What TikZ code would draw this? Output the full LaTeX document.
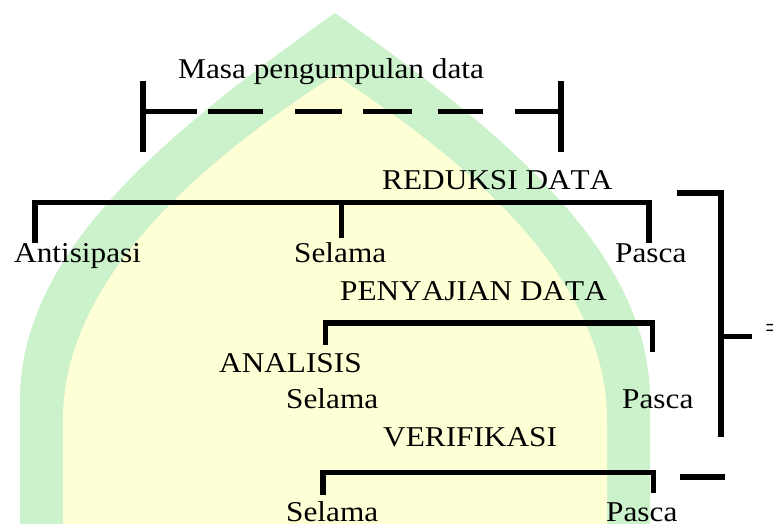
\documentclass[tikz,border=0pt]{standalone}
\usepackage{fontspec}
\setmainfont[Kerning=Off]{Liberation Serif}
\usepackage{graphicx}
\definecolor{archgreen}{RGB}{204,242,204}
\definecolor{archyellow}{RGB}{255,255,214}
\tikzset{
  lbl/.style={anchor=base west, inner sep=0pt, font=\fontsize{28.7}{34}\selectfont},
  bar/.style={line width=5.8pt, line join=miter, line cap=butt},
}
\newcommand{\wideword}[1]{\scalebox{1.09}[1]{#1}}
\begin{document}
\begin{tikzpicture}[x=1pt,y=-1pt]
\clip (0,0) rectangle (773,524);
\fill[white] (0,0) rectangle (773,524);
% pointed arch in the background
\fill[archgreen] (20,530) -- (20,400) .. controls (20,250) and (170,130) .. (335,13)
  .. controls (500,130) and (650,250) .. (650,400) -- (650,530) -- cycle;
\fill[archyellow] (63,530) -- (63,420) .. controls (63,290) and (180,175) .. (335,75)
  .. controls (490,175) and (607,290) .. (607,420) -- (607,530) -- cycle;

% labels
\node[lbl] (masa) at (178,79) {\wideword{Masa pengumpulan data}};
\node[lbl] (reduksi) at (382,189) {\wideword{REDUKSI DATA}};
\node[lbl] (antis) at (14,262) {\wideword{Antisipasi}};
\node[lbl] (selA) at (294,262) {\wideword{Selama}};
\node[lbl] (pasA) at (615,262) {\wideword{Pasca}};
\node[lbl] (sajian) at (340,300) {\wideword{PENYAJIAN DATA}};
\node[lbl] (analisis) at (219,372) {\wideword{ANALISIS}};
\node[lbl] (selB) at (286,408) {\wideword{Selama}};
\node[lbl] (pasB) at (622,408) {\wideword{Pasca}};
\node[lbl] (verif) at (383,446) {\wideword{VERIFIKASI}};
\node[lbl] (selC) at (286,521) {\wideword{Selama}};
\node[lbl] (pasC) at (606,521) {\wideword{Pasca}};
\node[lbl] (eq) at (765,337) {=};

% collection period bar
\coordinate (mTL) at (143,81);
\coordinate (mBL) at (143,152);
\coordinate (mTR) at (561,81);
\coordinate (mBR) at (561,152);
\coordinate (mML) at (143,111.5);
\coordinate (mMR) at (561,111.5);
\draw[bar] (mTL) -- (mBL);
\draw[bar] (mTR) -- (mBR);
\draw[bar, dash pattern=on 54pt off 11pt on 55pt off 32pt on 47pt off 21pt on 49pt off 26pt on 45pt off 32pt on 46pt]
  (mML) -- (mMR);

% reduction bracket
\coordinate (rL) at (35,202.5);
\coordinate (rR) at (649,202.5);
\coordinate (rM) at (341.5,202.5);
\draw[bar] (35,243) -- (rL) -- (rR) -- (649,243);
\draw[bar] (rM) -- (341.5,238);

% display bracket
\coordinate (pL) at (325.5,323);
\coordinate (pR) at (652.5,323);
\draw[bar] (325.5,345) -- (pL) -- (pR) -- (652.5,351.7);

% verification bracket
\coordinate (vL) at (323,472.5);
\coordinate (vR) at (653.5,472.5);
\draw[bar] (323,495) -- (vL) -- (vR) -- (653.5,493);

% right-hand bracket
\coordinate (bT) at (721,193);
\coordinate (bB) at (721,437);
\coordinate (bM) at (721,336.5);
\draw[bar] (677,193) -- (bT) -- (bB);
\draw[bar] (bM) -- (752,336.5);
\draw[bar] (680,477) -- (725,477);
\end{tikzpicture}
\end{document}
